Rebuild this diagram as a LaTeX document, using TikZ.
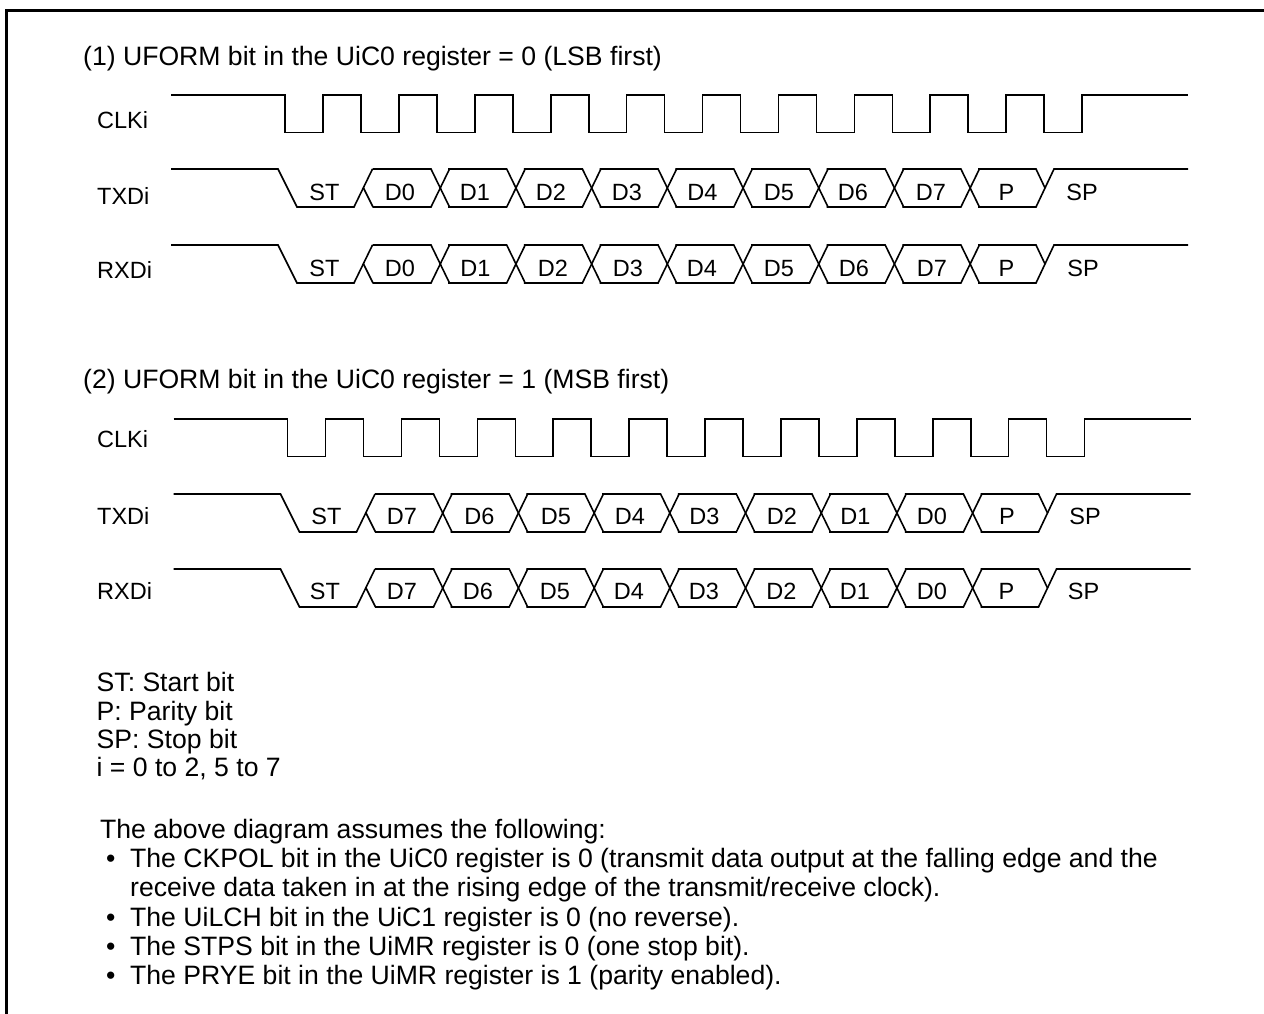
\documentclass[tikz,border=0pt]{standalone}
\usepackage{fontspec}
\setmainfont{Liberation Sans}
\tikzset{
  wave/.style={line width=1.6pt, line join=miter},
  frame/.style={line width=3pt},
  bitlabel/.style={inner sep=0pt, text height=17pt, text depth=0pt, font=\fontsize{23.5}{23.5}\selectfont},
  textline/.style={inner sep=0pt, anchor=base west, font=\fontsize{26.6}{26.6}\selectfont}
}
% clock line: shift, top y
\newcommand{\clkwave}[2]{
  \begin{scope}[xshift=#1pt, yshift=-#2pt]
    \draw[wave] (171,0) -- (285,0) -- (285,37.5) -- (323,37.5) -- (323,0)
      \foreach \k in {1,...,10} {
        -- ({323+(\k-1)*75.9+38},0) -- ({323+(\k-1)*75.9+38},37.5)
        -- ({323+\k*75.9},37.5) -- ({323+\k*75.9},0)
      } -- (1188,0);
  \end{scope}
}
% data line: shift, top y
\newcommand{\datawave}[2]{
  \begin{scope}[xshift=#1pt, yshift=-#2pt]
    \draw[wave] (171,0) -- (278,0) -- (297,38) -- (354,38) -- (372.5,0);
    \draw[wave] (363.5,19) -- (373,38);
    \foreach \k in {0,...,7} {
      \draw[wave] ({372.5+\k*75.7},0) -- ({431+\k*75.7},0) -- ({449.5+\k*75.7},38);
      \draw[wave] ({372.5+\k*75.7},38) -- ({431+\k*75.7},38) -- ({449.5+\k*75.7},0);
    }
    \draw[wave] (978,0) -- (1036,0) -- (1045,19);
    \draw[wave] (978,38) -- (1036,38) -- (1054,0) -- (1188,0);
  \end{scope}
}
\begin{document}
\begin{tikzpicture}[x=1pt, y=-1pt]
  \useasboundingbox (0,0) rectangle (1264,1014);
  \draw[frame] (6.5,1014) -- (6.5,10.5) -- (1264,10.5);
  % first block
  \node[textline] (title1) at (83,66) {(1) UFORM bit in the UiC0 register = 0 (LSB first)};
  \node[bitlabel, anchor=west] (clk1) at (97,120) {CLKi};
  \node[bitlabel, anchor=west] (txd1) at (97,196) {TXDi};
  \node[bitlabel, anchor=west] (rxd1) at (97,270) {RXDi};
  \clkwave{0}{95}
  \datawave{0}{169}
  \datawave{0}{245}
  \foreach \t/\x in {ST/324.5,D0/400,D1/475,D2/551,D3/627,D4/702.5,D5/779,D6/853,D7/931,P/1006.5,SP/1082}
    \node[bitlabel] (txda\t) at (\x,192) {\t};
  \foreach \t/\x in {ST/324.5,D0/400,D1/475.5,D2/553,D3/628,D4/702,D5/779,D6/854,D7/932,P/1006.5,SP/1083}
    \node[bitlabel] (rxda\t) at (\x,268) {\t};
  % second block
  \node[textline] (title2) at (83,388) {(2) UFORM bit in the UiC0 register = 1 (MSB first)};
  \node[bitlabel, anchor=west] (clk2) at (97,439) {CLKi};
  \node[bitlabel, anchor=west] (txd2) at (97,516) {TXDi};
  \node[bitlabel, anchor=west] (rxd2) at (97,591) {RXDi};
  \clkwave{2.5}{419}
  \datawave{2.5}{494}
  \datawave{2.5}{569}
  \foreach \t/\x in {ST/326.5,D7/402,D6/479.5,D5/556,D4/630,D3/704.5,D2/782,D1/855.5,D0/932,P/1007,SP/1085}
    \node[bitlabel] (txdb\t) at (\x,516) {\t};
  \foreach \t/\x in {ST/325,D7/402,D6/478,D5/555,D4/629,D3/704,D2/781.5,D1/855,D0/932,P/1006.5,SP/1083.5}
    \node[bitlabel] (rxdb\t) at (\x,591) {\t};
  % legend
  \node[textline] (st) at (96.5,691.5) {ST: Start bit};
  \node[textline] (par) at (96.5,720) {P: Parity bit};
  \node[textline] (sp) at (96.5,748) {SP: Stop bit};
  \node[textline] (idx) at (96.5,776) {i = 0 to 2, 5 to 7};
  % notes
  \node[textline] (intro) at (100,838) {The above diagram assumes the following:};
  \node[textline] (b1) at (106,867) {\textbullet};
  \node[textline] (n1) at (130,867) {The CKPOL bit in the UiC0 register is 0 (transmit data output at the falling edge and the};
  \node[textline] (n1b) at (130,896) {receive data taken in at the rising edge of the transmit/receive clock).};
  \node[textline] (b2) at (106,926) {\textbullet};
  \node[textline] (n2) at (130,926) {The UiLCH bit in the UiC1 register is 0 (no reverse).};
  \node[textline] (b3) at (106,955) {\textbullet};
  \node[textline] (n3) at (130,955) {The STPS bit in the UiMR register is 0 (one stop bit).};
  \node[textline] (b4) at (106,984) {\textbullet};
  \node[textline] (n4) at (130,984) {The PRYE bit in the UiMR register is 1 (parity enabled).};
\end{tikzpicture}
\end{document}
